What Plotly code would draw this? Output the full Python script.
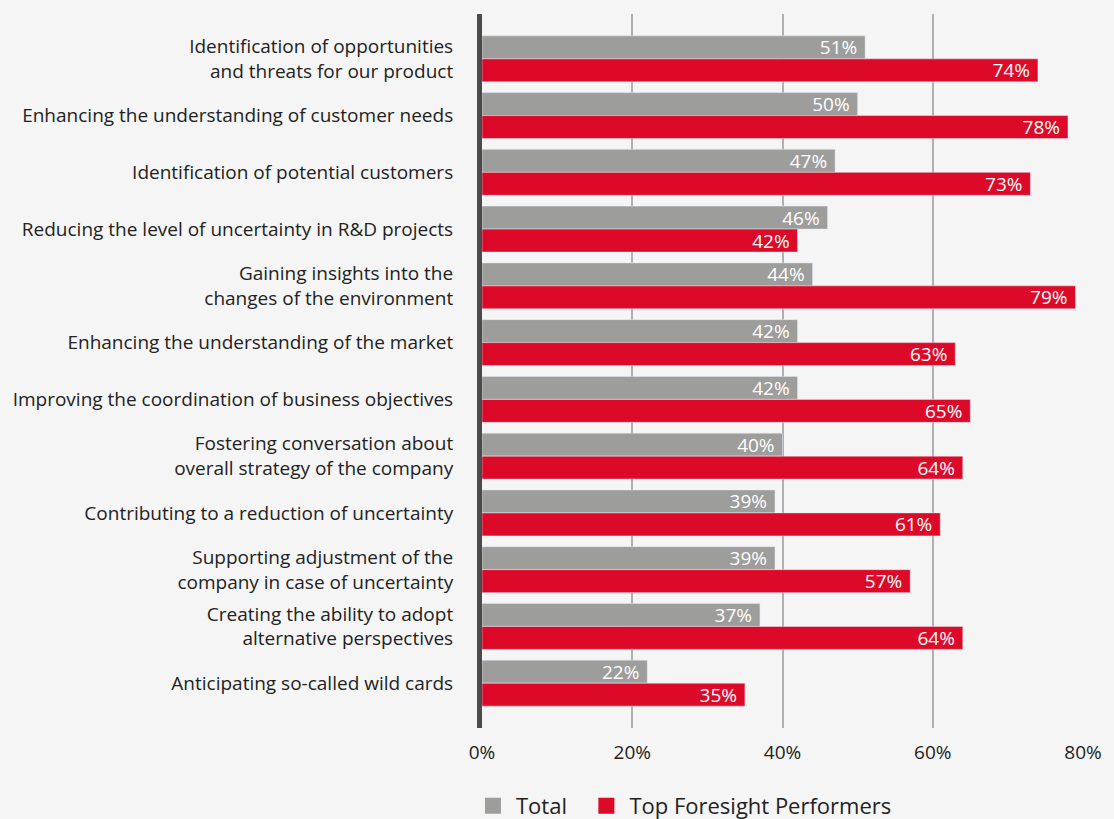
import plotly.graph_objects as go

categories = [
    "Identification of opportunities<br>and threats for our product",
    "Enhancing the understanding of customer needs",
    "Identification of potential customers",
    "Reducing the level of uncertainty in R&D projects",
    "Gaining insights into the<br>changes of the environment",
    "Enhancing the understanding of the market",
    "Improving the coordination of business objectives",
    "Fostering conversation about<br>overall strategy of the company",
    "Contributing to a reduction of uncertainty",
    "Supporting adjustment of the<br>company in case of uncertainty",
    "Creating the ability to adopt<br>alternative perspectives",
    "Anticipating so-called wild cards",
]
total = [51, 50, 47, 46, 44, 42, 42, 40, 39, 39, 37, 22]
top = [74, 78, 73, 42, 79, 63, 65, 64, 61, 57, 64, 35]
xticks = [0, 20, 40, 60, 80]
xticklabels = ["0%", "20%", "40%", "60%", "80%"]
series_names = ["Total", "Top Foresight Performers"]

GRAY = "#9d9d9b"
RED = "#dc0a28"
BG = "#f5f5f5"
FONT = "Open Sans"
TXT = "#222222"

pos = list(range(len(categories)))

fig = go.Figure()
fig.add_trace(go.Bar(
    y=pos, x=total, orientation="h", name=series_names[0], marker_color=GRAY,
    text=[f"{v}%\u00a0" for v in total], textposition="inside", insidetextanchor="end",
    textfont=dict(color="white", size=19, family=FONT), constraintext="none",
    showlegend=False, offsetgroup="a",
))
fig.add_trace(go.Bar(
    y=pos, x=top, orientation="h", name=series_names[1], marker_color=RED,
    text=[f"{v}%\u00a0" for v in top], textposition="inside", insidetextanchor="end",
    textfont=dict(color="white", size=19, family=FONT), constraintext="none",
    showlegend=False, offsetgroup="b",
))
legend_labels = [series_names[0] + "\u00a0" * 2, series_names[1]]
for nm, col in zip(legend_labels, [GRAY, RED]):
    fig.add_trace(go.Scatter(
        x=[None], y=[None], mode="markers", name=nm,
        marker=dict(symbol="square", size=18, color=col),
    ))

fig.update_layout(
    width=1114, height=819,
    margin=dict(l=482, r=31, t=14, b=91, autoexpand=False),
    paper_bgcolor=BG, plot_bgcolor=BG,
    barmode="group", bargap=0.19, bargroupgap=0,
    font=dict(family=FONT, color=TXT, size=19),
    showlegend=True,
    legend=dict(orientation="h", x=-0.02, xanchor="left", y=-0.109, yanchor="middle",
                font=dict(size=22, family=FONT, color=TXT),
                itemwidth=36, bgcolor="rgba(0,0,0,0)"),
)
fig.update_xaxes(
    range=[0, 80], tickvals=xticks, ticktext=xticklabels,
    showgrid=True, gridcolor="#b0b0b0", gridwidth=1.5, zeroline=False,
    showline=False, ticks="", ticklabelstandoff=11,
    tickfont=dict(size=19, family=FONT, color=TXT), fixedrange=True,
)
fig.update_yaxes(
    range=[11.79, -0.79], tickvals=pos, ticktext=categories,
    showgrid=False, zeroline=False, showline=True, linecolor="#4a4a4a", linewidth=5,
    ticks="", ticklabelstandoff=20,
    tickfont=dict(size=19, family=FONT, color=TXT), fixedrange=True,
)

fig.write_html("out.html")
